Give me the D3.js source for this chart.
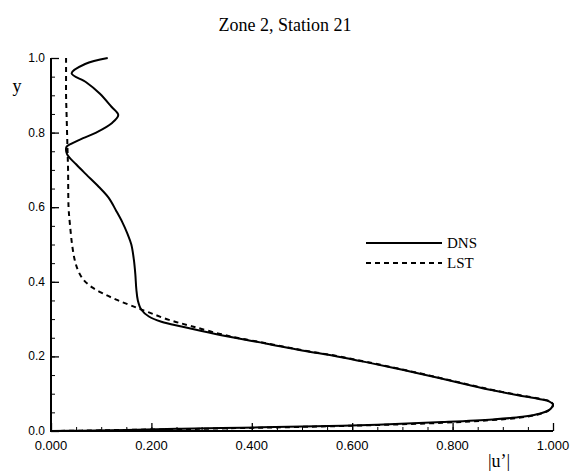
<!DOCTYPE html>
<html><head><meta charset="utf-8">
<script src="https://cdn.jsdelivr.net/npm/d3@7"></script>
<style>body{margin:0;background:#fff}</style>
</head><body>
<script>
// DNS profile: |u'| values and matching y values
const dnsU = [0.113,0.068,0.041,0.070,0.097,0.120,0.134,0.121,0.090,0.064,0.040,0.031,0.032,0.050,0.070,0.095,0.115,0.130,0.142,0.152,0.160,0.165,0.168,0.170,0.173,0.180,0.195,0.220,0.260,0.300,0.350,0.430,0.500,0.570,0.630,0.700,0.773,0.830,0.880,0.930,0.972,0.993,1.000,0.998,0.992,0.975,0.939,0.880,0.780,0.650,0.500,0.380,0.260,0.150,0.060,0.000];
const dnsY = [1.000,0.984,0.959,0.935,0.905,0.870,0.847,0.825,0.800,0.785,0.770,0.762,0.742,0.715,0.688,0.655,0.625,0.590,0.560,0.530,0.500,0.460,0.420,0.380,0.350,0.325,0.307,0.293,0.280,0.268,0.254,0.234,0.216,0.200,0.184,0.164,0.142,0.124,0.109,0.096,0.086,0.079,0.072,0.064,0.056,0.047,0.038,0.031,0.024,0.017,0.012,0.009,0.006,0.003,0.001,0.000];
// LST profile
const lstU = [0.030,0.030,0.030,0.031,0.032,0.033,0.034,0.035,0.038,0.042,0.047,0.054,0.065,0.082,0.105,0.130,0.160,0.195,0.235,0.280,0.350,0.430,0.500,0.570,0.630,0.700,0.773,0.830,0.880,0.930,0.972,0.993,1.000,0.998,0.990,0.972,0.935,0.875,0.780,0.650,0.500,0.380,0.260,0.150,0.060,0.000];
const lstY = [1.000,0.950,0.900,0.850,0.800,0.750,0.700,0.600,0.550,0.500,0.460,0.430,0.405,0.385,0.368,0.352,0.336,0.318,0.298,0.281,0.256,0.235,0.217,0.201,0.185,0.165,0.143,0.125,0.110,0.097,0.087,0.080,0.071,0.063,0.054,0.045,0.036,0.029,0.022,0.016,0.011,0.008,0.005,0.003,0.001,0.000];
const xTicks = [0, 0.2, 0.4, 0.6, 0.8, 1.0];
const yTicks = [0, 0.2, 0.4, 0.6, 0.8, 1.0];
const seriesNames = ["DNS", "LST"];
const title = "Zone 2, Station 21";

const W = 573, H = 471;
const svg = d3.select("body").append("svg").attr("width", W).attr("height", H);
const x = d3.scaleLinear().domain([0, 1]).range([51, 553]);
const y = d3.scaleLinear().domain([0, 1]).range([431, 58]);
const serif = "Liberation Serif, Times New Roman, serif";
const sans = "Liberation Sans, Arial, sans-serif";

svg.append("text").attr("x", 285).attr("y", 31).attr("text-anchor", "middle")
  .style("font-family", serif).style("font-size", "18px").text(title);

// axes: minor and major inward ticks
function ticks(axisFn, scale, vals, size, width, transform) {
  const g = svg.append("g").attr("transform", transform);
  g.call(axisFn(scale).tickValues(vals).tickSize(size).tickFormat(""));
  g.select(".domain").remove();
  g.selectAll(".tick line").attr("stroke-width", width);
}
ticks(d3.axisTop, x, d3.range(0, 1.0001, 0.05), 4, 1, "translate(0,431)");
ticks(d3.axisTop, x, xTicks, 8, 1.3, "translate(0,431)");
ticks(d3.axisRight, y, d3.range(0, 1.0001, 0.05), 4, 1, "translate(51,0)");
ticks(d3.axisRight, y, yTicks, 8, 1.3, "translate(51,0)");

xTicks.forEach(t => svg.append("text").attr("x", x(t)).attr("y", 450).attr("text-anchor", "middle")
  .style("font-family", sans).style("font-size", "13px").text(d3.format(".3f")(t)));
yTicks.forEach(t => svg.append("text").attr("x", 45).attr("y", y(t) + 4).attr("text-anchor", "end")
  .style("font-family", sans).style("font-size", "12px").text(d3.format(".1f")(t)));

svg.append("line").attr("x1", 51).attr("x2", 51).attr("y1", y(1)).attr("y2", 432).attr("stroke", "#000").attr("stroke-width", 2);
svg.append("line").attr("x1", 50).attr("x2", x(1)).attr("y1", 431).attr("y2", 431).attr("stroke", "#000").attr("stroke-width", 2);

svg.append("text").attr("x", 17).attr("y", 92).attr("text-anchor", "middle")
  .style("font-family", serif).style("font-size", "18px").text("y");
svg.append("text").attr("x", 499).attr("y", 467).attr("text-anchor", "middle")
  .style("font-family", serif).style("font-size", "18px").text("|u’|");

const line = d3.line().x(d => x(d[0])).y(d => y(d[1])).curve(d3.curveCatmullRom.alpha(0.5));
svg.append("path").datum(dnsU.map((u, i) => [u, dnsY[i]])).attr("d", line)
  .attr("fill", "none").attr("stroke", "#000").attr("stroke-width", 2);
svg.append("path").datum(lstU.map((u, i) => [u, lstY[i]])).attr("d", line)
  .attr("fill", "none").attr("stroke", "#000").attr("stroke-width", 2).attr("stroke-dasharray", "5,4");

// legend
const lg = [{n: seriesNames[0], dash: null, yy: 243}, {n: seriesNames[1], dash: "5,4", yy: 263}];
lg.forEach(d => {
  svg.append("line").attr("x1", 366).attr("x2", 442).attr("y1", d.yy).attr("y2", d.yy)
    .attr("stroke", "#000").attr("stroke-width", 2).attr("stroke-dasharray", d.dash);
  svg.append("text").attr("x", 447).attr("y", d.yy + 5).style("font-family", serif)
    .style("font-size", "15px").text(d.n);
});
</script>
</body></html>
